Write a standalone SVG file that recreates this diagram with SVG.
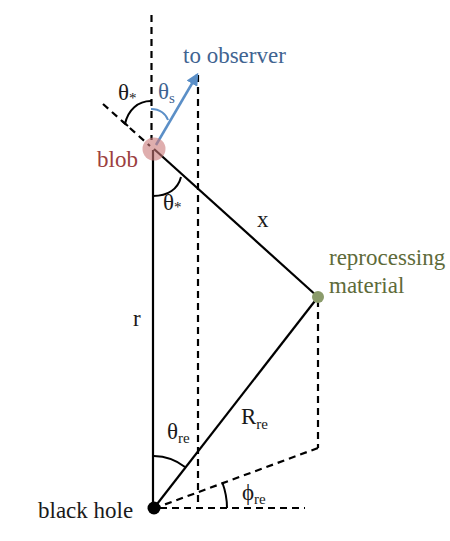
<svg xmlns="http://www.w3.org/2000/svg" width="450" height="541" viewBox="0 0 450 541">
<defs>
<style>
.solid{stroke:#000;stroke-width:2.2;fill:none}
.dash{stroke:#000;stroke-width:2.2;fill:none;stroke-dasharray:7,5}
.arc{stroke:#000;stroke-width:2;fill:none}
text{font-family:"Liberation Serif","Times New Roman",serif;font-size:23px;fill:#1a1a1a}
.sub{font-size:15px}
.blue{fill:#3f6491}
.green{fill:#5e6b3a}
.red{fill:#9c4040}
</style>
<marker id="ah" viewBox="0 0 10 10" refX="8" refY="5" markerWidth="5" markerHeight="5" orient="auto">
<path d="M0,0 L10,5 L0,10 z" fill="#5b8fc7"/>
</marker>
</defs>
<rect width="450" height="541" fill="#fff"/>
<g id="connectors">
<line class="dash" x1="151.5" y1="15" x2="151.5" y2="140"/>
<line class="solid" x1="153" y1="150" x2="153" y2="508"/>
<line class="dash" x1="198" y1="75" x2="198" y2="508"/>
<line class="dash" x1="103" y1="104" x2="150" y2="146"/>
<line class="solid" x1="154" y1="149" x2="318" y2="297"/>
<line class="solid" x1="154" y1="508" x2="318" y2="297"/>
<line class="dash" x1="318" y1="300" x2="318" y2="448"/>
<line class="dash" x1="318" y1="448" x2="158" y2="507"/>
<line class="dash" x1="160" y1="508" x2="305" y2="508"/>
<line stroke="#5b8fc7" stroke-width="2.5" x1="156" y1="145" x2="197" y2="75" marker-end="url(#ah)"/>
<path class="arc" d="M151,101 C138,101 128,110 125,124 M122,121 L128,126"/>
<path d="M151,109 C160,109 166,114 168,120" stroke="#5b8fc7" stroke-width="2" fill="none"/>
<path class="arc" d="M153,196 C168,196 178,189 181,177"/>
<path class="arc" d="M154,456 A52,52 0 0,1 185,467"/>
<path class="arc" d="M222.5,483 A73,73 0 0,1 227,508"/>
</g>
<g id="blob">
<circle cx="154" cy="149" r="11.5" fill="#c97878" fill-opacity="0.6"/>
<text class="red" x="97" y="167">blob</text>
</g>
<g id="reprocessing">
<circle cx="318" cy="297" r="6" fill="#8b9b6b"/>
<text class="green" x="329" y="265">reprocessing</text>
<text class="green" x="329" y="293">material</text>
</g>
<g id="blackhole">
<circle cx="154" cy="508" r="6.5" fill="#000"/>
<text x="38" y="518">black hole</text>
</g>
<g id="observer">
<text class="blue" x="183" y="63">to observer</text>
</g>
<g id="labels">
<text x="118" y="100">θ<tspan class="sub" dy="3">*</tspan></text>
<text class="blue" x="158" y="99">θ<tspan class="sub" dy="4">s</tspan></text>
<text x="163" y="210">θ<tspan class="sub" dy="2">*</tspan></text>
<text x="257" y="227">x</text>
<text x="133" y="326">r</text>
<text x="167" y="439">θ<tspan class="sub" dy="4">re</tspan></text>
<text x="241" y="424">R<tspan class="sub" dy="5">re</tspan></text>
<text x="242" y="500">ϕ<tspan class="sub" dy="4">re</tspan></text>
</g>
</svg>
